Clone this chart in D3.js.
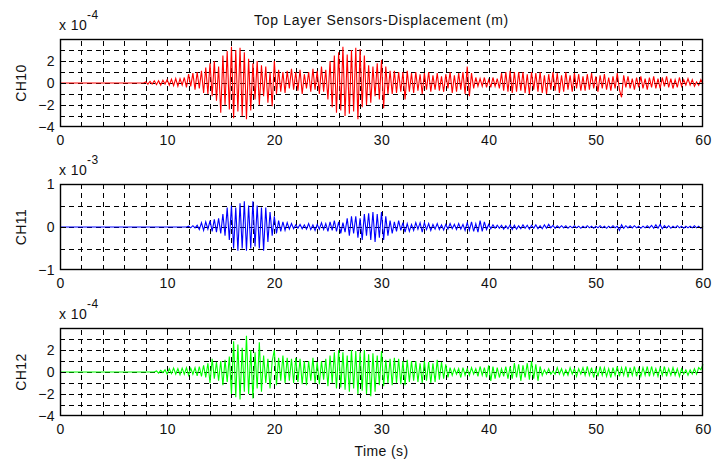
<!DOCTYPE html>
<html>
<head>
<meta charset="utf-8">
<script src="https://cdn.jsdelivr.net/npm/d3@7"></script>
<style>
  html, body { margin: 0; padding: 0; background: #fff; }
  svg { display: block; }
  text { font-family: "Liberation Sans", Arial, sans-serif; fill: #111; }
</style>
</head>
<body>
<svg id="chart" width="712" height="463"></svg>
<script>
// ---------------- data ----------------
const title = "Top Layer Sensors-Displacement (m)";
const xLabel = "Time (s)";
const channels = ["CH10", "CH11", "CH12"];
const exponents = ["-4", "-3", "-4"];
const lineColors = ["#ff0000", "#0000ff", "#00ff00"];
const xDomain = [0, 60];
const xTickLabels = [0, 10, 20, 30, 40, 50, 60];
const xGrid = [2,4,6,8,10,12,14,16,18,20,22,24,26,28,30,32,34,36,38,40,42,44,46,48,50,52,54,56,58];
const yDomains = [[-4, 4], [-1, 1], [-4, 4]];
const yTickLabels = [[-4, -2, 0, 2], [-1, 0, 1], [-4, -2, 0, 2]];
const yGrids = [[-3,-2,-1,0,1,2,3], [-0.5,0,0.5], [-3,-2,-1,0,1,2,3]];
const sampleStep = 0.2;              // seconds between read values
const onsets = [8.0, 12.0, 9.0];     // first read value; before it the trace is flat at 0

// CH10 (x 1e-4), from 8.0 s
const ch10 = [
 0.1,-0.1,0.15,-0.1,0.2,   -0.15,0.2,-0.2,0.25,-0.1,
 0.3,-0.2,0.35,-0.25,0.4,  -0.3,0.4,-0.2,0.5,-0.4,
 0.8,-0.3,0.9,-0.6,1.0,    -0.5,1.1,-0.9,1.4,-1.0,
 1.8,-1.2,2.0,-1.6,1.5,    -2.7,2.5,-2.0,2.9,-2.4,
 3.3,-3.2,3.0,-2.6,3.2,    -3.0,2.8,-3.3,2.2,-2.5,
 1.8,-1.5,2.0,-2.0,1.6,    -1.2,1.5,-1.8,1.0,-2.1,
 2.0,-1.0,1.2,-0.8,1.0,    -0.9,1.1,-0.5,1.3,-0.6,
 1.0,-0.7,1.2,-1.0,0.8,    -0.5,1.0,-0.8,1.3,-0.6,
 1.1,-1.0,1.5,-0.8,1.2,    -1.5,2.0,-2.2,2.5,-2.7,
 2.8,-2.5,3.3,-3.0,2.6,    -2.8,3.0,-2.6,3.2,-3.3,
 3.1,-2.2,2.5,-2.0,1.6,    -1.8,1.5,-1.2,1.8,-1.5,
 2.1,-2.3,1.5,-1.0,1.1,    -1.0,1.1,-0.9,1.0,-0.8,
 1.0,-1.5,1.1,-0.8,0.9,    -0.9,1.0,-0.7,0.8,-1.0,
 0.9,-0.6,1.0,-0.8,0.7,    -0.6,0.9,-0.7,0.6,-0.8,
 0.8,-0.5,1.0,-0.9,0.7,    -0.8,0.9,-0.6,1.0,-1.0,
 1.5,-1.2,0.9,-0.5,0.5,    -0.3,0.4,-0.3,0.5,-0.4,
 0.3,-0.4,0.5,-0.3,0.4,    -0.5,0.9,-0.7,1.0,-0.8,
 1.1,-0.9,1.0,-0.8,1.0,    -0.7,1.0,-0.9,0.8,-1.0,
 1.0,-0.6,0.9,-0.8,1.0,    -0.9,0.7,-1.0,0.8,-0.6,
 1.0,-0.7,0.9,-0.9,0.7,    -0.8,1.0,-0.6,0.7,-0.8,
 0.9,-0.5,0.8,-0.7,0.6,    -0.7,0.8,-0.6,0.9,-0.5,
 0.6,-0.8,0.7,-0.5,0.8,    -0.6,0.5,-0.7,0.6,-0.5,
 0.9,-0.6,-1.3,0.7,-0.4,   0.6,-0.5,0.4,-0.6,0.5,
 -0.4,0.6,-0.5,0.4,-0.6,   0.5,-0.4,0.6,-0.5,0.4,
 -0.5,0.5,-0.3,0.6,-0.4,   0.4,-0.5,0.3,-0.4,0.5,
 -0.3,0.3,-0.2,0.4,-0.2,   0.3,-0.3,0.1,-0.2,0.3,
 -0.1
];

// CH11 (x 1e-3), from 12.0 s
const ch11 = [
 0.02,-0.02,0.03,-0.02,0.04,   -0.06,0.1,-0.08,0.12,-0.05,
 0.15,-0.1,0.18,-0.12,0.2,     -0.15,0.3,-0.2,0.45,-0.3,
 0.5,-0.5,0.45,-0.55,0.55,     -0.5,0.6,-0.55,0.5,-0.5,
 0.6,-0.45,0.5,-0.5,0.45,      -0.55,0.45,-0.35,0.35,-0.2,
 0.25,-0.15,0.15,-0.1,0.12,    -0.08,0.1,-0.05,0.08,-0.04,
 0.05,-0.03,0.06,-0.04,0.05,   -0.05,0.08,-0.06,0.05,-0.08,
 0.06,-0.05,0.1,-0.06,0.08,    -0.1,0.12,-0.08,0.15,-0.1,
 0.12,-0.15,0.1,-0.12,0.2,     -0.2,0.25,-0.15,0.25,-0.25,
 0.2,-0.3,0.3,-0.2,0.32,       -0.3,0.35,-0.35,0.3,-0.25,
 0.35,-0.3,0.25,-0.2,0.15,     -0.15,0.12,-0.1,0.15,-0.08,
 0.1,-0.12,0.08,-0.1,0.06,     -0.08,0.1,-0.05,0.1,-0.12,
 0.1,-0.06,0.08,-0.08,0.06,    -0.05,0.08,-0.06,0.05,-0.07,
 0.06,-0.05,0.08,-0.04,0.06,   -0.06,0.08,-0.05,0.06,-0.08,
 0.1,-0.08,0.12,-0.1,0.08,     -0.12,0.15,-0.1,0.12,-0.06,
 0.06,-0.04,0.05,-0.03,0.04,   -0.03,0.04,-0.05,0.03,-0.04,
 0.05,-0.06,0.04,-0.05,0.03,   -0.04,0.05,-0.03,0.04,-0.05,
 0.04,-0.03,0.05,-0.04,0.03,   -0.04,0.05,-0.03,0.06,-0.02,
 0.04,-0.03,0.03,-0.02,0.03,   -0.02,0.03,-0.03,0.02,-0.02,
 0.03,-0.02,0.02,-0.03,0.02,   -0.02,0.03,-0.02,0.02,-0.03,
 0.02,-0.02,0.03,-0.02,0.02,   -0.03,0.02,-0.02,0.03,-0.02,
 0.02,-0.08,0.05,-0.03,0.03,   -0.02,0.03,-0.02,0.03,-0.02,
 0.02,-0.03,0.02,-0.02,0.03,   -0.02,0.04,-0.03,0.05,-0.03,
 0.06,-0.04,0.03,-0.02,0.03,   -0.03,0.02,-0.02,0.03,-0.02,
 0.02,-0.03,0.02,-0.02,0.02,   -0.02,0.03,-0.02,0.02,-0.03,
 0.02
];

// CH12 (x 1e-4), from 9.0 s
const ch12 = [
 0.1,-0.1,0.15,-0.05,0.2,   -0.2,0.3,-0.15,0.35,-0.2,
 0.3,-0.25,0.35,-0.2,0.4,   -0.3,0.35,-0.2,0.4,-0.35,
 0.5,-0.4,0.6,-0.5,0.8,     -1.0,1.2,-0.6,0.9,-0.8,
 1.0,-1.2,1.1,-0.9,1.4,     -2.0,2.8,-2.3,2.5,-2.5,
 2.2,-1.8,3.3,-2.0,2.0,     -2.4,1.8,-1.5,2.7,-1.8,
 1.5,-1.0,1.2,-1.5,1.0,     2.0,-1.2,1.3,-0.8,1.5,
 -1.0,1.3,-0.8,1.2,-1.0,    1.3,-0.9,1.2,-1.1,1.0,
 -1.2,1.0,-0.8,1.3,-1.0,    0.9,-1.1,1.0,-0.7,1.2,
 -1.3,1.5,-1.0,1.8,-1.5,    2.0,-1.4,1.8,-1.6,1.5,
 -1.8,2.0,-1.5,1.9,-2.0,    1.8,-1.7,2.0,-2.0,1.6,
 -2.2,1.7,-1.8,1.5,-1.2,    1.9,-1.3,1.1,-1.0,1.2,
 -1.2,1.3,-1.0,1.2,-1.1,    1.0,-1.2,1.1,-0.9,1.0,
 -0.8,1.0,-0.9,0.8,-1.0,    1.0,-0.8,0.9,-1.0,0.8,
 -0.9,1.1,-0.7,0.9,-0.6,    0.7,-0.5,0.4,-0.3,0.3,
 -0.2,0.3,-0.5,0.4,-0.3,    0.3,-0.3,0.4,-0.2,0.3,
 -0.4,0.5,-0.3,0.4,-0.5,    0.6,-0.8,0.5,-0.6,0.4,
 -0.5,0.3,-0.4,0.5,-0.6,    0.5,-0.6,0.8,-0.5,0.7,
 -0.8,0.6,-0.5,0.8,-0.7,    1.0,-0.6,0.7,-0.8,0.5,
 -0.3,0.2,-0.2,0.3,-0.2,    0.1,-0.2,0.4,-0.2,0.3,
 -0.3,0.2,-0.3,0.4,-0.2,    0.3,-0.4,0.3,-0.2,0.4,
 -0.3,0.5,-0.3,0.4,-0.5,    0.3,-0.4,0.5,-0.3,0.4,
 -0.4,0.3,-0.5,0.4,-0.3,    0.5,-0.4,0.4,-0.3,0.5,
 -0.5,0.4,-0.3,0.5,-0.4,    0.3,-0.4,0.4,-0.3,0.5,
 -0.4,0.5,-0.3,0.3,-0.4,    0.4,-0.3,0.5,-0.4,0.3,
 -0.3,0.4,-0.3,0.3,-0.4,    0.3,-0.2,0.2,-0.3,0.2,
 -0.2,0.3,-0.2,0.4,0.2,     0.7
];
const series = [ch10, ch11, ch12];

// ---------------- layout ----------------
const plotLeft = 60, plotRight = 703;
const panelTops = [39, 184, 328];
const panelHeights = [88, 86, 88];
const fontPx = "14px";
const spacing = "0.4px";

const svg = d3.select("#chart");
const x = d3.scaleLinear().domain(xDomain).range([plotLeft, plotRight]);

svg.append("text")
  .attr("x", (plotLeft + plotRight) / 2).attr("y", 24.5)
  .attr("text-anchor", "middle").style("font-size", fontPx).style("letter-spacing", "0.7px")
  .text(title);

channels.forEach((name, k) => {
  const top = panelTops[k], h = panelHeights[k], bottom = top + h;
  const y = d3.scaleLinear().domain(yDomains[k]).range([bottom, top]);
  const g = svg.append("g");

  // dashed grid
  g.append("g").attr("transform", `translate(0,${bottom})`)
    .call(d3.axisBottom(x).tickValues(xGrid).tickSize(-h).tickFormat(""))
    .call(a => a.select(".domain").remove())
    .selectAll("line").attr("stroke", "#000").attr("stroke-dasharray", "5,4").attr("shape-rendering", "crispEdges");
  g.append("g").attr("transform", `translate(${plotLeft},0)`)
    .call(d3.axisLeft(y).tickValues(yGrids[k]).tickSize(-(plotRight - plotLeft)).tickFormat(""))
    .call(a => a.select(".domain").remove())
    .selectAll("line").attr("stroke", "#000").attr("stroke-dasharray", "5,4").attr("shape-rendering", "crispEdges");

  // trace
  const pts = [{t: 0, v: 0}, {t: onsets[k] - sampleStep, v: 0}]
    .concat(series[k].map((v, i) => ({t: onsets[k] + i * sampleStep, v})));
  g.append("path").datum(pts)
    .attr("fill", "none").attr("stroke", lineColors[k]).attr("stroke-width", 1.1)
    .attr("d", d3.line().x(d => x(d.t)).y(d => y(d.v)));

  // major tick marks (inward) on all four sides
  const tickLen = 6;
  const majorX = xTickLabels.slice(1, -1);
  g.append("g").attr("transform", `translate(0,${bottom})`)
    .call(d3.axisBottom(x).tickValues(majorX).tickSize(-tickLen).tickFormat(""))
    .call(a => a.select(".domain").remove())
    .selectAll("line").attr("stroke", "#000").attr("shape-rendering", "crispEdges");
  g.append("g").attr("transform", `translate(0,${top})`)
    .call(d3.axisTop(x).tickValues(majorX).tickSize(-tickLen).tickFormat(""))
    .call(a => a.select(".domain").remove())
    .selectAll("line").attr("stroke", "#000").attr("shape-rendering", "crispEdges");
  const majorY = yTickLabels[k].filter(v => v > yDomains[k][0] && v < yDomains[k][1]);
  g.append("g").attr("transform", `translate(${plotLeft},0)`)
    .call(d3.axisLeft(y).tickValues(majorY).tickSize(-tickLen).tickFormat(""))
    .call(a => a.select(".domain").remove())
    .selectAll("line").attr("stroke", "#000").attr("shape-rendering", "crispEdges");
  g.append("g").attr("transform", `translate(${plotRight},0)`)
    .call(d3.axisRight(y).tickValues(majorY).tickSize(-tickLen).tickFormat(""))
    .call(a => a.select(".domain").remove())
    .selectAll("line").attr("stroke", "#000").attr("shape-rendering", "crispEdges");

  // tick labels
  const xa = g.append("g").attr("transform", `translate(0,${bottom})`)
    .call(d3.axisBottom(x).tickValues(xTickLabels).tickSize(0).tickPadding(8).tickFormat(d3.format("d")));
  xa.select(".domain").remove();
  xa.selectAll("text").style("font-size", fontPx).style("letter-spacing", spacing).attr("fill", "#111");
  const ya = g.append("g").attr("transform", `translate(${plotLeft},0)`)
    .call(d3.axisLeft(y).tickValues(yTickLabels[k]).tickSize(0).tickPadding(5).tickFormat(d3.format("d")));
  ya.select(".domain").remove();
  ya.selectAll("text").style("font-size", fontPx).style("letter-spacing", spacing).attr("fill", "#111");

  // box
  g.append("rect").attr("x", plotLeft + 0.5).attr("y", top + 0.5)
    .attr("width", plotRight - plotLeft - 1).attr("height", h - 1)
    .attr("fill", "none").attr("stroke", "#000").attr("stroke-width", 1.4);

  // exponent label
  const ex = svg.append("text").attr("x", plotLeft - 1).attr("y", top - 9)
    .style("font-size", fontPx).style("letter-spacing", spacing);
  ex.append("tspan").text("x 10");
  ex.append("tspan").attr("dy", -11).style("font-size", "12px").text(exponents[k]);

  // channel label
  svg.append("text")
    .attr("transform", `translate(26,${top + h / 2}) rotate(-90)`)
    .attr("text-anchor", "middle").style("font-size", fontPx).style("letter-spacing", spacing)
    .text(name);
});

svg.append("text")
  .attr("x", (plotLeft + plotRight) / 2).attr("y", 456)
  .attr("text-anchor", "middle").style("font-size", fontPx).style("letter-spacing", spacing)
  .text(xLabel);
</script>
</body>
</html>
